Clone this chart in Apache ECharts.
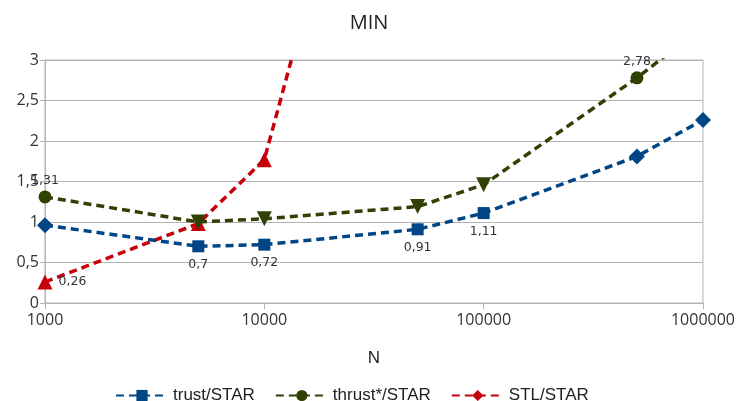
<!DOCTYPE html>
<html>
<head>
<meta charset="utf-8">
<script src="https://cdn.jsdelivr.net/npm/echarts@6/dist/echarts.min.js"></script>
<style>html,body{margin:0;padding:0;background:#fff}#c{width:738px;height:401px}</style>
</head>
<body>
<div id="c"></div>
<script>
const chartTitle = 'MIN';
const xAxisName = 'N';
const nValues = [1000, 5000, 10000, 50000, 100000, 500000, 1000000];
const trustValues = [0.96, 0.7, 0.72, 0.91, 1.11, 1.81, 2.26];
const thrustStarValues = [1.31, 1.0, 1.04, 1.19, 1.46, 2.78, 3.41];
const stlNValues = [1000, 5000, 10000, 50000];
const stlValues = [0.26, 0.98, 1.77, 8.76];
const seriesNames = ['trust/STAR', 'thrust*/STAR', 'STL/STAR'];
const yTicks = [0, 0.5, 1, 1.5, 2, 2.5, 3];

const fmt = v => String(v).replace('.', ',');

const trustSymbols = ['diamond','rect','rect','rect','rect','diamond','diamond'];
const thrustSymbols = ['circle','triangle','triangle','triangle','triangle','circle','circle'];
const stlSymbols = ['triangle','triangle','triangle','triangle'];
const trustLabelIdx = {1:'bottom',2:'bottom',3:'bottom',4:'bottom'};
const thrustLabelIdx = {0:'top',5:'top'};
const stlLabelIdx = {0:'right'};
const sizes = { diamond: 16, rect: 12, circle: 13, triangle: 15 };

function buildData(xs, ys, symbols, labelMap, flipTri) {
  return xs.map((x, i) => {
    const d = { value: [x, ys[i]] };
    d.symbol = symbols[i];
    d.symbolSize = sizes[symbols[i]];
    if (symbols[i] === 'triangle' && flipTri) d.symbolRotate = 180;
    if (labelMap[i]) {
      d.label = { show: true, position: labelMap[i] };
      if (labelMap[i] === 'top') d.label.distance = 3;
    }
    return d;
  });
}

const labelBase = {
  show: false,
  formatter: p => fmt(p.value[1]),
  fontFamily: 'DejaVu Sans',
  fontSize: 12.5,
  color: '#333',
  distance: 6
};

const colors = ['#004586', '#314004', '#c5000b'];
const lineBase = { type: [8, 5], width: 3.5 };

const chart = echarts.init(document.getElementById('c'), null, { renderer: 'canvas' });
chart.setOption({
  animation: false,
  backgroundColor: '#fff',
  color: colors,
  title: {
    text: chartTitle,
    left: 'center',
    top: 8,
    textStyle: { fontFamily: 'Open Sans', fontSize: 20, fontWeight: 'normal', color: '#222' }
  },
  grid: { left: 45, right: 35, top: 60, bottom: 98, show: true, borderColor: '#b3b3b3', borderWidth: 1 },
  legend: {
    data: seriesNames,
    left: 110,
    top: 382,
    itemWidth: 52,
    itemHeight: 14,
    itemGap: 20,
    textStyle: { fontFamily: 'Liberation Sans', fontSize: 17, color: '#222' }
  },
  xAxis: {
    type: 'log',
    logBase: 10,
    min: 1000,
    max: 1000000,
    name: xAxisName,
    nameLocation: 'middle',
    nameGap: 47,
    nameTextStyle: { fontFamily: 'Liberation Sans', fontSize: 17, color: '#222' },
    axisLine: { show: true, lineStyle: { color: '#b3b3b3', width: 1 } },
    axisTick: { show: true, length: 6, lineStyle: { color: '#b3b3b3' } },
    minorTick: { show: false },
    splitLine: { show: false },
    axisLabel: {
      fontFamily: 'Open Sans', fontSize: 16, color: '#333', margin: 9,
      formatter: v => String(Math.round(v))
    }
  },
  yAxis: {
    type: 'value',
    min: yTicks[0],
    max: yTicks[yTicks.length - 1],
    interval: yTicks[1] - yTicks[0],
    axisLine: { show: true, lineStyle: { color: '#b3b3b3', width: 1 } },
    axisTick: { show: true, length: 5, lineStyle: { color: '#b3b3b3' } },
    splitLine: { show: true, lineStyle: { color: '#b3b3b3', width: 1 } },
    axisLabel: { fontFamily: 'Open Sans', fontSize: 16, color: '#333', margin: 6, formatter: v => fmt(v) }
  },
  series: [
    {
      name: seriesNames[0], type: 'line', clip: true,
      symbol: 'rect', symbolSize: 12,
      data: buildData(nValues, trustValues, trustSymbols, trustLabelIdx, false),
      lineStyle: Object.assign({ color: colors[0] }, lineBase),
      itemStyle: { color: colors[0] },
      label: labelBase, z: 3
    },
    {
      name: seriesNames[1], type: 'line', clip: true,
      symbol: 'circle', symbolSize: 13,
      data: buildData(nValues, thrustStarValues, thrustSymbols, thrustLabelIdx, true),
      lineStyle: Object.assign({ color: colors[1] }, lineBase),
      itemStyle: { color: colors[1] },
      label: labelBase, z: 4
    },
    {
      name: seriesNames[2], type: 'line', clip: true,
      symbol: 'diamond', symbolSize: 14,
      data: buildData(stlNValues, stlValues, stlSymbols, stlLabelIdx, false),
      lineStyle: Object.assign({ color: colors[2] }, lineBase),
      itemStyle: { color: colors[2] },
      label: labelBase, z: 2
    }
  ]
});
</script>
</body>
</html>
